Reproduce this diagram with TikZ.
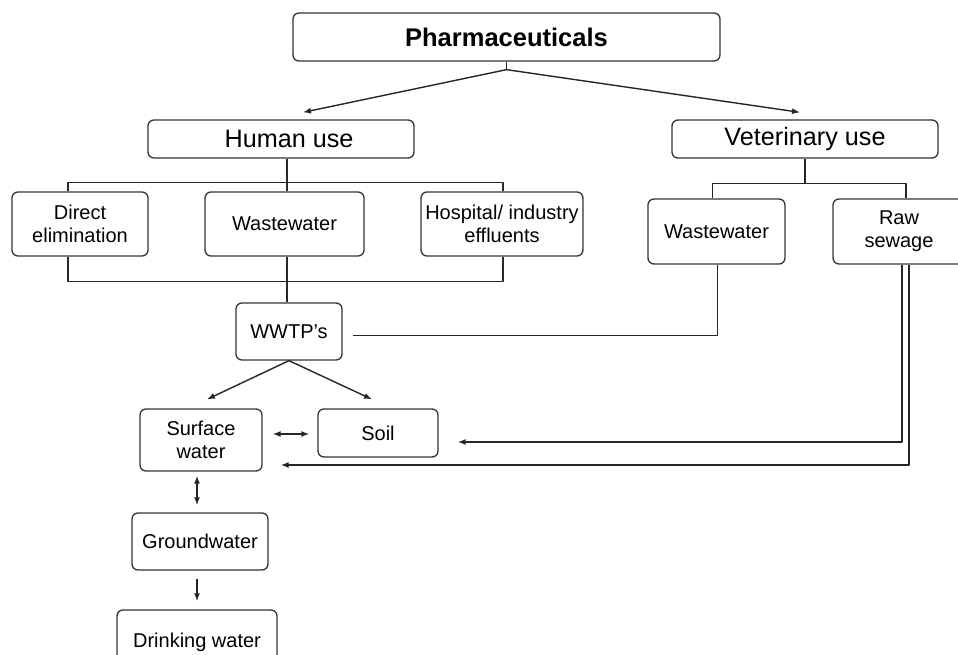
\documentclass[tikz,border=0pt]{standalone}
\usepackage{fontspec}
\setmainfont{Liberation Sans}
\usetikzlibrary{arrows,arrows.meta,positioning,calc}

\begin{document}
\begin{tikzpicture}[x=1pt,y=-1pt,>={Latex[length=8pt,width=6pt]},line join=bevel,
  box/.style={draw=black!80,line width=1.3pt,rounded corners=6pt,align=center,inner sep=1pt,font=\fontsize{20}{23}\selectfont},
  bigbox/.style={box,font=\fontsize{25.2}{29}\selectfont},
  link/.style={line width=1.4pt,draw=black!85}]
\useasboundingbox (0,0) rectangle (958,655);
\clip (0,0) rectangle (958,655);

\node[box,minimum width=427,minimum height=48,font=\bfseries\fontsize{25.5}{29}\selectfont] at (506.5,37) (pharma) {Pharmaceuticals};
\node[bigbox,minimum width=266,minimum height=38] at (281,139) (human) {\hspace*{16pt}Human use};
\node[bigbox,minimum width=266,minimum height=38] at (805,139) (vet) {Veterinary use};

\node[box,minimum width=136,minimum height=64] at (80,224) (direct) {Direct\\elimination};
\node[box,minimum width=159,minimum height=64] at (284.5,224) (hww) {Wastewater};
\node[box,minimum width=162,minimum height=64] at (502,224) (hosp) {Hospital/ industry\\effluents};
\node[box,minimum width=137,minimum height=65] at (716.5,231.5) (vww) {Wastewater};
\node[box,minimum width=150,minimum height=65] at (908,231.5) (raw) {Raw\hspace*{18pt}\\sewage\hspace*{18pt}};

\node[box,minimum width=106,minimum height=57] at (289,331.5) (wwtp) {WWTP's};
\node[box,minimum width=122,minimum height=62] at (201,440) (surf) {Surface\\water};
\node[box,minimum width=120,minimum height=48] at (378,433) (soil) {Soil};
\node[box,minimum width=136,minimum height=57] at (200,541.5) (ground) {Groundwater};
\node[box,minimum width=160,minimum height=60,text depth=0pt] at (197,640) (drink) {Drinking water};

% pharmaceuticals split
\coordinate (pj) at ($(pharma.south)+(0,8)$);
\draw[link] (pharma.south) -- (pj);
\draw[link,->] (pj) -- ($(human.north)+(22,-7)$);
\draw[link,->] (pj) -- ($(vet.north)+(-5,-7)$);

% human use
\coordinate (hj) at ($(human.south)+(6,24)$);
\draw[link] ($(human.south)+(6,0)$) -- (hj);
\draw[link] ($(direct.north)+(-12,0)$) |- (hj) -| ($(hosp.north)+(1,0)$);
\draw[link] (hj) -- (hj |- hww.north);
\draw[link] ($(direct.south)+(-12,0)$) |- ($(hosp.south)+(1,25)$) -- ($(hosp.south)+(1,0)$);
\draw[link] (hj |- hww.south) -- (hj |- wwtp.north);

% veterinary use
\coordinate (vj) at ($(vet.south)+(0,25)$);
\draw[link] (vet.south) -- (vj);
\draw[link] ($(vww.north)+(-4,0)$) |- (vj) -| ($(raw.north)+(-2,0)$);
\draw[link] ($(vww.south)+(1,0)$) |- ($(wwtp.east)+(10,4)$);
\draw[link,->] ($(raw.south)+(-6,0)$) |- ($(soil.east)+(19,9)$);
\draw[link,->] ($(raw.south)+(1,0)$) |- ($(surf.east)+(18,25)$);

% treatment and receiving waters
\draw[link,->] (wwtp.south) -- ($(surf.north)+(6,-9)$);
\draw[link,->] (wwtp.south) -- ($(soil.north)+(-6,-9)$);
\draw[link,<->] ($(surf.east)+(10,-6)$) -- ($(soil.west)+(-8,1)$);
\draw[link,<->] ($(surf.south)+(-4,4)$) -- ($(ground.north)+(-3,-7)$);
\draw[link,->] ($(ground.south)+(-3,8)$) -- ($(drink.north)+(0,-8)$);
\end{tikzpicture}
\end{document}
